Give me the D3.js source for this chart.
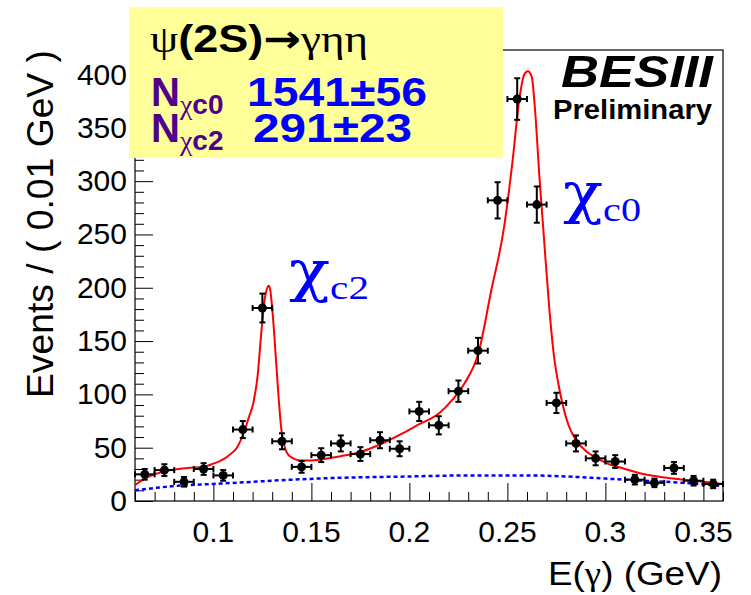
<!DOCTYPE html>
<html>
<head>
<meta charset="utf-8">
<script src="https://cdn.jsdelivr.net/npm/d3@7"></script>
<style>
  body { margin: 0; background: #fff; }
  text, tspan { font-family: "Liberation Sans", Arial, sans-serif; }
  .serif { font-family: "Liberation Serif", "Times New Roman", serif; }
  .greek { font-family: "DejaVu Serif", serif; }
</style>
</head>
<body>
<div id="chart-container"></div>
<script>
// photon energy bins (bin centres, GeV)
const binCenters = [0.065, 0.075, 0.085, 0.095, 0.105, 0.115, 0.125, 0.135, 0.145, 0.155,
  0.165, 0.175, 0.185, 0.195, 0.205, 0.215, 0.225, 0.235, 0.245, 0.255,
  0.265, 0.275, 0.285, 0.295, 0.305, 0.315, 0.325, 0.335, 0.345, 0.355];
const events = [25, 29, 18, 30, 24, 67, 181, 56, 32, 43,
  54, 44, 57, 49, 84, 71, 103, 141, 282, 377,
  278, 92, 54, 40, 37, 20, 17, 31, 19, 16];
const eventErrors = [5, 5.5, 4.5, 5.5, 5, 8, 13.5, 7.5, 5.5, 6.5,
  7.5, 6.5, 7.5, 7, 9, 8.5, 10, 12, 17, 19.5,
  17, 9.5, 7.5, 6.5, 6, 4.5, 4, 5.5, 4.5, 4];
const binHalfWidth = 0.005;

// total fit (red)
const fitX = [0.060, 0.065, 0.070, 0.078, 0.087, 0.095, 0.100, 0.104, 0.108, 0.112,
  0.1155, 0.118, 0.1205, 0.1226, 0.1243, 0.126, 0.1275, 0.1282, 0.129, 0.1298,
  0.1311, 0.1328, 0.1345, 0.1365, 0.139, 0.1447, 0.150, 0.155, 0.165, 0.175,
  0.185, 0.195, 0.205, 0.215, 0.222, 0.228, 0.2354, 0.2416, 0.2484, 0.2527,
  0.2561, 0.2586, 0.2604, 0.2624, 0.2641, 0.2663, 0.2688, 0.2714, 0.2739, 0.276,
  0.278, 0.281, 0.285, 0.290, 0.295, 0.300, 0.310, 0.320, 0.330, 0.340,
  0.350, 0.355, 0.360];
const fitY = [15, 21, 25, 29, 31, 32, 35, 38, 43, 50,
  64, 78, 93, 118, 155, 187, 200, 202, 198, 185,
  155, 109, 70, 50, 42, 38, 38, 39, 42, 46,
  53, 62, 72, 82, 95, 110, 140, 196, 258, 320,
  377, 400, 403, 398, 367, 305, 243, 180, 134, 110,
  92, 72, 57, 47, 41, 36, 30, 25, 22, 20,
  18, 17, 16];

// background (blue dashed)
const bkgX = [0.060, 0.080, 0.100, 0.120, 0.140, 0.160, 0.200, 0.230, 0.260, 0.280,
  0.300, 0.320, 0.340, 0.360];
const bkgY = [10, 14, 16, 18, 20, 21.5, 23, 24, 24, 23, 21, 19, 17, 14];

const xTicks = [0.1, 0.15, 0.2, 0.25, 0.3, 0.35];
const xTickLabels = ["0.1", "0.15", "0.2", "0.25", "0.3", "0.35"];
const yTicks = [0, 50, 100, 150, 200, 250, 300, 350, 400];

function drawChart() {
  const width = 751;
  const height = 595;
  const frame = { left: 135, right: 723, top: 50, bottom: 501 };

  const svg = d3
    .select("#chart-container")
    .append("svg")
    .attr("width", width)
    .attr("height", height)
    .style("background-color", "#fff");

  const x = d3.scaleLinear().domain([0.06, 0.36]).range([frame.left, frame.right]);
  const y = d3.scaleLinear().domain([0, 423]).range([frame.bottom, frame.top]);

  svg.append("defs").append("clipPath").attr("id", "frame-clip")
    .append("rect")
    .attr("x", frame.left).attr("y", frame.top)
    .attr("width", frame.right - frame.left)
    .attr("height", frame.bottom - frame.top);

  // ROOT style ticks inside the frame
  const xAxis = svg.append("g")
    .attr("transform", `translate(0,${frame.bottom})`)
    .call(d3.axisTop(x).tickValues(d3.range(0.06, 0.3605, 0.01)).tickSize(9).tickFormat(""));
  xAxis.selectAll(".tick line")
    .attr("y2", (d) => (Math.abs(Math.round(d * 100) % 5) === 0 ? -18 : -9))
    .attr("stroke", "#000");
  xAxis.select(".domain").remove();

  const yAxis = svg.append("g")
    .attr("transform", `translate(${frame.left},0)`)
    .call(d3.axisRight(y).tickValues(d3.range(0, 421, 10)).tickSize(9).tickFormat(""));
  yAxis.selectAll(".tick line")
    .attr("x2", (d) => (d % 50 === 0 ? 18 : 9))
    .attr("stroke", "#000");
  yAxis.select(".domain").remove();

  svg.append("rect")
    .attr("x", frame.left).attr("y", frame.top)
    .attr("width", frame.right - frame.left)
    .attr("height", frame.bottom - frame.top)
    .attr("fill", "none")
    .attr("stroke", "#000")
    .attr("stroke-width", 1.2);

  // tick labels
  svg.append("g").selectAll("text")
    .data(xTicks)
    .join("text")
    .attr("x", (d) => x(d))
    .attr("y", 542)
    .attr("text-anchor", "middle")
    .attr("font-size", 30)
    .text((d, i) => xTickLabels[i]);

  svg.append("g").selectAll("text")
    .data(yTicks)
    .join("text")
    .attr("x", 127)
    .attr("y", (d) => y(d) + 10)
    .attr("text-anchor", "end")
    .attr("font-size", 30)
    .text((d) => d);

  // axis titles
  const xTitle = svg.append("text")
    .attr("x", 548)
    .attr("y", 585)
    .attr("font-size", 34)
    .attr("textLength", 174)
    .attr("lengthAdjust", "spacingAndGlyphs");
  xTitle.append("tspan").text("E(");
  xTitle.append("tspan").attr("class", "serif").text("γ");
  xTitle.append("tspan").text(") (GeV)");

  svg.append("text")
    .attr("transform", "translate(53,50) rotate(-90)")
    .attr("text-anchor", "end")
    .attr("font-size", 36)
    .attr("textLength", 348)
    .attr("lengthAdjust", "spacingAndGlyphs")
    .text("Events / ( 0.01 GeV )");

  const plot = svg.append("g").attr("clip-path", "url(#frame-clip)");

  const bkgData = bkgX.map((v, i) => ({ x: v, y: bkgY[i] }));
  const fitData = fitX.map((v, i) => ({ x: v, y: fitY[i] }));

  const line = d3.line()
    .x((d) => x(d.x))
    .y((d) => y(d.y))
    .curve(d3.curveMonotoneX);

  plot.append("path")
    .datum(bkgData)
    .attr("fill", "none")
    .attr("stroke", "#0000ff")
    .attr("stroke-width", 2.5)
    .attr("stroke-dasharray", "4,3")
    .attr("d", line);

  plot.append("path")
    .datum(fitData)
    .attr("fill", "none")
    .attr("stroke", "#ff0000")
    .attr("stroke-width", 2)
    .attr("d", line);

  // data points with error bars
  const pts = binCenters.map((c, i) => ({ x: c, y: events[i], e: eventErrors[i] }));
  const g = svg.append("g").attr("stroke", "#000").attr("stroke-width", 2);
  const cap = 3;
  pts.forEach((d) => {
    const cx = x(d.x);
    const cy = y(d.y);
    const x0 = x(d.x - binHalfWidth);
    const x1 = x(d.x + binHalfWidth);
    const y0 = y(d.y - d.e);
    const y1 = y(d.y + d.e);
    g.append("line").attr("x1", x0).attr("x2", x1).attr("y1", cy).attr("y2", cy);
    g.append("line").attr("x1", cx).attr("x2", cx).attr("y1", y0).attr("y2", y1);
    g.append("line").attr("x1", x0).attr("x2", x0).attr("y1", cy - cap).attr("y2", cy + cap);
    g.append("line").attr("x1", x1).attr("x2", x1).attr("y1", cy - cap).attr("y2", cy + cap);
    g.append("line").attr("x1", cx - cap).attr("x2", cx + cap).attr("y1", y0).attr("y2", y0);
    g.append("line").attr("x1", cx - cap).attr("x2", cx + cap).attr("y1", y1).attr("y2", y1);
    g.append("circle").attr("cx", cx).attr("cy", cy).attr("r", 4.5).attr("fill", "#000").attr("stroke", "none");
  });

  // peak labels
  [{ sub: "c0", x: 563, y: 212, w: 78 }, { sub: "c2", x: 289, y: 290, w: 80 }].forEach((d) => {
    const t = svg.append("text")
      .attr("x", d.x).attr("y", d.y)
      .attr("fill", "#0000ff")
      .attr("class", "serif")
      .attr("font-size", 56)
      .attr("textLength", d.w)
      .attr("lengthAdjust", "spacingAndGlyphs");
    t.append("tspan").attr("class", "greek").text("χ");
    t.append("tspan").attr("class", "serif").attr("font-size", 34).attr("dy", 9).text(d.sub);
  });

  // BESIII stamp
  svg.append("text")
    .attr("x", 561).attr("y", 87)
    .attr("font-size", 44)
    .attr("font-weight", "bold")
    .attr("font-style", "italic")
    .attr("textLength", 152)
    .attr("lengthAdjust", "spacingAndGlyphs")
    .text("BESIII");
  svg.append("text")
    .attr("x", 553).attr("y", 119)
    .attr("font-size", 27)
    .attr("font-weight", "bold")
    .attr("textLength", 159)
    .attr("lengthAdjust", "spacingAndGlyphs")
    .text("Preliminary");

  // yield box
  svg.append("rect")
    .attr("x", 129).attr("y", 7)
    .attr("width", 374).attr("height", 151)
    .attr("fill", "#ffff99");

  const title = svg.append("text")
    .attr("x", 150).attr("y", 52)
    .attr("font-size", 38)
    .attr("font-weight", "bold")
    .attr("textLength", 218)
    .attr("lengthAdjust", "spacingAndGlyphs");
  title.append("tspan").attr("class", "serif").attr("font-weight", "normal").text("ψ");
  title.append("tspan").text("(2S)");
  title.append("tspan").style("font-family", "'DejaVu Sans', sans-serif").text("→");
  title.append("tspan").attr("class", "serif").attr("font-weight", "normal").text("γηη");

  const yields = [
    { sub: "c0", val: "1541±56", y: 106, vx: 247, vw: 180 },
    { sub: "c2", val: "291±23", y: 142, vx: 253, vw: 159 },
  ];
  yields.forEach((d) => {
    const t = svg.append("text")
      .attr("x", 151).attr("y", d.y)
      .attr("font-size", 40)
      .attr("font-weight", "bold")
      .attr("fill", "#50008c");
    t.append("tspan").text("N");
    t.append("tspan").attr("dy", 8).attr("font-size", 28)
      .attr("class", "serif").attr("font-weight", "normal").text("χ");
    t.append("tspan").attr("font-size", 28).text(d.sub);
    svg.append("text")
      .attr("x", d.vx).attr("y", d.y)
      .attr("font-size", 40)
      .attr("font-weight", "bold")
      .attr("fill", "#0000ff")
      .attr("textLength", d.vw)
      .attr("lengthAdjust", "spacingAndGlyphs")
      .text(d.val);
  });
}

drawChart();
</script>
</body>
</html>
